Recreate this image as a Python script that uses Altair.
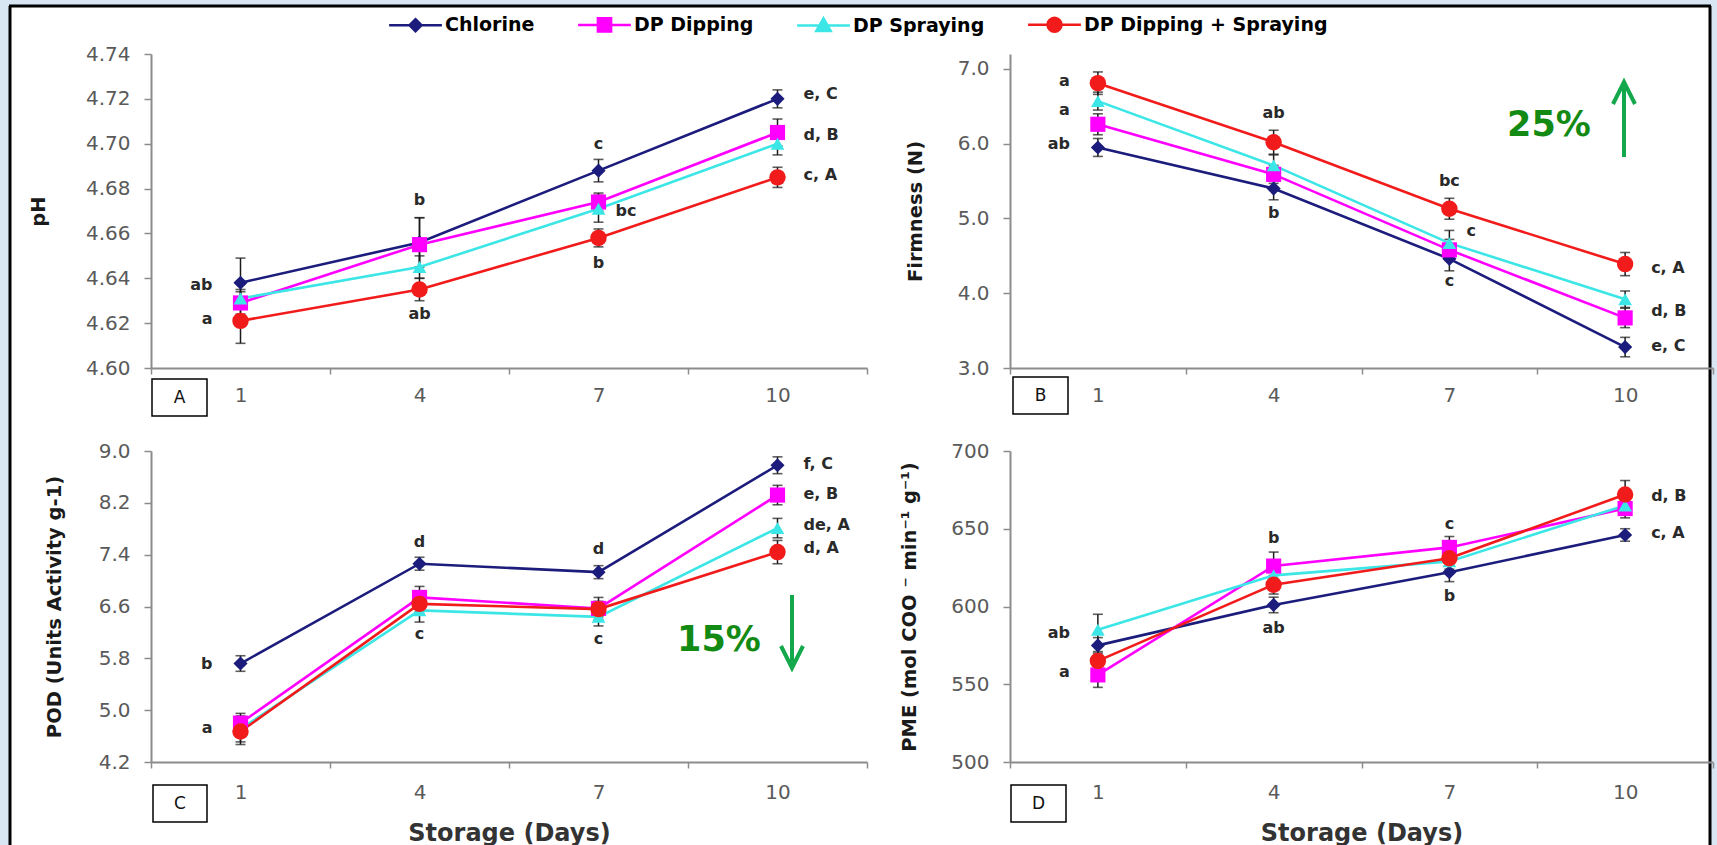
import math
import altair as alt
import pandas as pd

FONT = "DejaVu Sans"
AX = "#8c8c8c"

days = [1, 4, 7, 10]
series = ["Chlorine", "DP Dipping", "DP Spraying", "DP Dipping + Spraying"]
colors = ["#1c1c7c", "#ff00ff", "#3ce6e6", "#f21b1b"]
shapes = ["diamond", "square", "triangle-up", "circle"]
marker_sizes = [200, 230, 190, 270]


def _poly(pts):
    return "M-2.2,0L2.2,0M" + "L".join(f"{a:.3f},{b:.3f}" for a, b in pts) + "Z"


legend_paths = [
    _poly([(0, -0.5), (0.5, 0), (0, 0.5), (-0.5, 0)]),
    _poly([(-0.55, -0.55), (0.55, -0.55), (0.55, 0.55), (-0.55, 0.55)]),
    _poly([(0, -0.6), (0.6, 0.45), (-0.6, 0.45)]),
    _poly([(0.58 * math.cos(2 * math.pi * k / 16), 0.58 * math.sin(2 * math.pi * k / 16))
           for k in range(16)]),
]

# ---- Panel A: pH ----
ph_chlorine = [4.638, 4.656, 4.688, 4.720]
ph_dipping = [4.629, 4.655, 4.674, 4.705]
ph_spraying = [4.631, 4.645, 4.671, 4.700]
ph_dip_spray = [4.621, 4.635, 4.658, 4.685]
ph_err_chlorine = [0.011, 0.011, 0.005, 0.004]
ph_err_dipping = [0.005, 0.012, 0.004, 0.006]
ph_err_spraying = [0.004, 0.005, 0.006, 0.005]
ph_err_dip_spray = [0.010, 0.005, 0.004, 0.0045]
ph_ticks = [4.60, 4.62, 4.64, 4.66, 4.68, 4.70, 4.72, 4.74]
ph_ann_day = [1, 1, 4, 4, 7, 7, 7, 10, 10, 10]
ph_ann_text = ["ab", "a", "b", "ab", "c", "bc", "b", "e, C", "d, B", "c, A"]
ph_ann_y = [4.637, 4.622, 4.675, 4.624, 4.700, 4.670, 4.647, 4.722, 4.704, 4.686]
ph_ann_pos = ["L", "L", "C", "C", "C", "N", "C", "R", "R", "R"]

# ---- Panel B: Firmness ----
fi_chlorine = [5.95, 5.40, 4.46, 3.28]
fi_dipping = [6.26, 5.59, 4.58, 3.67]
fi_spraying = [6.57, 5.71, 4.67, 3.92]
fi_dip_spray = [6.81, 6.02, 5.13, 4.39]
fi_err_chlorine = [0.12, 0.15, 0.16, 0.13]
fi_err_dipping = [0.14, 0.12, 0.14, 0.13]
fi_err_spraying = [0.12, 0.14, 0.17, 0.11]
fi_err_dip_spray = [0.15, 0.16, 0.14, 0.155]
fi_ticks = [3.0, 4.0, 5.0, 6.0, 7.0]
fi_ann_day = [1, 1, 1, 4, 4, 7, 7, 7, 10, 10, 10]
fi_ann_text = ["a", "a", "ab", "ab", "b", "bc", "c", "c", "c, A", "d, B", "e, C"]
fi_ann_y = [6.84, 6.45, 6.00, 6.41, 5.07, 5.50, 4.83, 4.16, 4.34, 3.76, 3.29]
fi_ann_pos = ["L", "L", "L", "C", "C", "C", "N", "C", "R", "R", "R"]

# ---- Panel C: POD ----
pod_chlorine = [5.72, 7.26, 7.13, 8.78]
pod_dipping = [4.80, 6.74, 6.57, 8.32]
pod_spraying = [4.71, 6.54, 6.44, 7.81]
pod_dip_spray = [4.67, 6.64, 6.56, 7.44]
pod_err_chlorine = [0.12, 0.10, 0.10, 0.13]
pod_err_dipping = [0.15, 0.17, 0.17, 0.15]
pod_err_spraying = [0.20, 0.18, 0.14, 0.15]
pod_err_dip_spray = [0.20, 0.12, 0.12, 0.18]
pod_ticks = [4.2, 5.0, 5.8, 6.6, 7.4, 8.2, 9.0]
pod_ann_day = [1, 1, 4, 4, 7, 7, 10, 10, 10, 10]
pod_ann_text = ["b", "a", "d", "c", "d", "c", "f, C", "e, B", "de, A", "d, A"]
pod_ann_y = [5.72, 4.73, 7.60, 6.17, 7.48, 6.10, 8.80, 8.34, 7.86, 7.50]
pod_ann_pos = ["L", "L", "C", "C", "C", "C", "R", "R", "R", "R"]

# ---- Panel D: PME ----
pme_chlorine = [575, 601, 622, 646]
pme_dipping = [556, 626, 638, 663]
pme_spraying = [585, 620, 629, 665]
pme_dip_spray = [565, 614, 631, 672]
pme_err_chlorine = [5, 5, 6, 4]
pme_err_dipping = [8, 9, 7, 6]
pme_err_spraying = [10, 6, 5, 6]
pme_err_dip_spray = [6, 6, 5, 9]
pme_ticks = [500, 550, 600, 650, 700]
pme_ann_day = [1, 1, 4, 4, 7, 7, 10, 10]
pme_ann_text = ["ab", "a", "b", "ab", "c", "b", "d, B", "c, A"]
pme_ann_y = [583, 558, 644, 586, 653, 607, 671, 647]
pme_ann_pos = ["L", "L", "C", "C", "C", "C", "R", "R"]

panel_letters = ["A", "B", "C", "D"]
callout_text = ["25%", "15%"]


def series_frame(vals, errs):
    rows = []
    for s, v, e in zip(series, vals, errs):
        for d, vv, ee in zip(days, v, e):
            rows.append({"day": d, "series": s, "value": vv, "lo": vv - ee, "hi": vv + ee})
    return pd.DataFrame(rows)


POS = {"L": ("right", -28), "R": ("left", 26), "N": ("left", 17), "C": ("center", 0)}


def make_panel(cfg):
    df = series_frame(cfg["values"], cfg["errors"])
    ann = pd.DataFrame({"day": cfg["ann_day"], "label": cfg["ann_text"],
                        "value": cfg["ann_y"], "pos": cfg["ann_pos"]})
    w, h = cfg["w"], cfg["h"]

    xaxis = alt.Axis(title=cfg["xtitle"], labelAngle=0, tickBand="extent",
                     domainColor=AX, domainWidth=2, tickColor=AX, tickWidth=1.5, tickSize=6,
                     labelFont=FONT, labelFontSize=20, labelColor="#5a5a5a",
                     labelPadding=cfg["xpad"], zindex=1, grid=False,
                     titleFont=FONT, titleFontSize=24, titleFontWeight="bold",
                     titleColor="#333333", titleY=71, titleBaseline="middle")
    x = alt.X("day:O", scale=alt.Scale(type="band", domain=days, paddingInner=0, paddingOuter=0),
              axis=xaxis)
    yaxis = alt.Axis(title=cfg["ytitle"], values=cfg["ticks"], format=cfg["fmt"],
                     domainColor=AX, domainWidth=2, tickColor=AX, tickWidth=1.5, tickSize=7,
                     labelFont=FONT, labelFontSize=20, labelColor="#5a5a5a", labelPadding=14,
                     grid=False, zindex=1, titleFont=FONT, titleFontSize=19.5,
                     titleFontWeight="bold", titleColor="#1a1a1a",
                     titleX=cfg["titleX"], titleBaseline="middle")
    yscale = alt.Scale(domain=cfg["domain"], nice=False, zero=False)

    def Y(field):
        return alt.Y(f"{field}:Q", scale=yscale, axis=yaxis)

    color = alt.Color("series:N", scale=alt.Scale(domain=series, range=colors), legend=None)
    base = alt.Chart(df)
    layers = []

    if cfg.get("frame"):
        one = pd.DataFrame({"letter": [cfg["letter"]]})
        fb = alt.Chart(one)
        layers.append(fb.mark_rect(fill="#d8e5f3").encode(
            x=alt.value(-151), x2=alt.value(1566), y=alt.value(-54), y2=alt.value(791)))
        layers.append(fb.mark_rect(fill="white").encode(
            x=alt.value(-141), x2=alt.value(1559), y=alt.value(-48), y2=alt.value(791)))
        layers.append(fb.mark_rule(color="black", strokeWidth=3).encode(
            x=alt.value(-141), y=alt.value(-48), y2=alt.value(791)))
        layers.append(fb.mark_rule(color="black", strokeWidth=3).encode(
            x=alt.value(1559), y=alt.value(-48), y2=alt.value(791)))
        layers.append(fb.mark_rule(color="black", strokeWidth=3).encode(
            x=alt.value(-142), x2=alt.value(1560), y=alt.value(-48)))

    # error bars
    layers.append(base.mark_rule(color="#1a1a1a", strokeWidth=1.5).encode(
        x=x, y=Y("lo"), y2=alt.Y2("hi:Q")))
    layers.append(base.mark_tick(color="#1a1a1a", size=10, thickness=1.6).encode(x=x, y=Y("lo")))
    layers.append(base.mark_tick(color="#1a1a1a", size=10, thickness=1.6).encode(x=x, y=Y("hi")))

    # lines
    layers.append(base.mark_line(strokeWidth=2.6).encode(x=x, y=Y("value"), color=color))

    # markers
    for s, shp, sz in zip(series, shapes, marker_sizes):
        layers.append(base.transform_filter(alt.datum.series == s).mark_point(
            filled=True, shape=shp, size=sz, opacity=1).encode(x=x, y=Y("value"), color=color))

    # significance letters
    for p, (al, dx) in POS.items():
        if p in cfg["ann_pos"]:
            layers.append(alt.Chart(ann).transform_filter(alt.datum.pos == p).mark_text(
                align=al, dx=dx, baseline="middle", font=FONT, fontSize=16,
                fontWeight="bold", color="#2a2a2a").encode(x=x, y=Y("value"), text="label:N"))

    # panel letter box
    bx0, bx1, by0, by1 = cfg["box"]
    one = pd.DataFrame({"letter": [cfg["letter"]]})
    layers.append(alt.Chart(one).mark_rect(fill="white", stroke="black", strokeWidth=1.5).encode(
        x=alt.value(bx0), x2=alt.value(bx1), y=alt.value(h + by0), y2=alt.value(h + by1)))
    layers.append(alt.Chart(one).mark_text(font=FONT, fontSize=17, color="#111111",
                                           baseline="middle").encode(
        x=alt.value((bx0 + bx1) / 2), y=alt.value(h + (by0 + by1) / 2), text="letter:N"))

    # percentage callout with arrow
    if cfg.get("callout"):
        c = cfg["callout"]
        cd = pd.DataFrame({"pct": [c["text"]]})
        cc = alt.Chart(cd)
        layers.append(cc.mark_text(font=FONT, fontSize=35, fontWeight="bold", color="#138a13",
                                   baseline="middle").encode(
            x=alt.value(c["tx"]), y=alt.value(c["ty"]), text="pct:N"))
        layers.append(cc.mark_rule(color="#14a84c", strokeWidth=4).encode(
            x=alt.value(c["ax"]), y=alt.value(c["ay0"]), y2=alt.value(c["ay1"])))
        layers.append(cc.mark_point(shape=c["head"], filled=False, size=484, strokeWidth=4,
                                    color="#14a84c", opacity=1).encode(
            x=alt.value(c["ax"]), y=alt.value(c["hy"])))

    # legend carrier (clipped away inside the plot, only its legend shows)
    if cfg.get("legend"):
        legend = alt.Legend(orient="none", legendX=cfg["legend"][0], legendY=cfg["legend"][1],
                            direction="horizontal",
                            title=None, labelFont=FONT, labelFontSize=19, labelFontWeight="bold",
                            labelColor="black", symbolSize=576, symbolStrokeWidth=2.5,
                            labelOffset=16, columnPadding=38, labelLimit=400, zindex=1)
        ld = pd.DataFrame({"series": series})
        layers.append(alt.Chart(ld).mark_point(filled=True, clip=True, strokeWidth=2.5,
                                               opacity=1).encode(
            x=alt.value(-60), y=alt.value(-60),
            fill=alt.Fill("series:N", scale=alt.Scale(domain=series, range=colors), legend=legend),
            stroke=alt.Stroke("series:N", scale=alt.Scale(domain=series, range=colors), legend=legend),
            shape=alt.Shape("series:N", scale=alt.Scale(domain=series, range=legend_paths),
                            legend=legend)))

    return alt.layer(*layers).properties(width=w, height=h)


A = make_panel(dict(
    values=[ph_chlorine, ph_dipping, ph_spraying, ph_dip_spray],
    errors=[ph_err_chlorine, ph_err_dipping, ph_err_spraying, ph_err_dip_spray],
    ann_day=ph_ann_day, ann_text=ph_ann_text, ann_y=ph_ann_y, ann_pos=ph_ann_pos,
    w=716, h=314, xtitle=None, xpad=11, ytitle="pH", ticks=ph_ticks, fmt=".2f",
    domain=[4.60, 4.74], titleX=-113, letter=panel_letters[0], box=(1, 56, 11, 48),
    frame=True))

B = make_panel(dict(
    values=[fi_chlorine, fi_dipping, fi_spraying, fi_dip_spray],
    errors=[fi_err_chlorine, fi_err_dipping, fi_err_spraying, fi_err_dip_spray],
    ann_day=fi_ann_day, ann_text=fi_ann_text, ann_y=fi_ann_y, ann_pos=fi_ann_pos,
    w=703, h=314, xtitle=None, xpad=11, ytitle="Firmness (N)", ticks=fi_ticks, fmt=".1f",
    domain=[3.0, 7.2], titleX=-95, letter=panel_letters[1], box=(3, 58, 9, 46),
    legend=(-608, -43),
    callout=dict(text=callout_text[0], tx=539, ty=71, ax=614, ay0=103, ay1=32, hy=39,
                 head="M-1,1L0,-1L1,1")))

C = make_panel(dict(
    values=[pod_chlorine, pod_dipping, pod_spraying, pod_dip_spray],
    errors=[pod_err_chlorine, pod_err_dipping, pod_err_spraying, pod_err_dip_spray],
    ann_day=pod_ann_day, ann_text=pod_ann_text, ann_y=pod_ann_y, ann_pos=pod_ann_pos,
    w=716, h=311, xtitle="Storage (Days)", xpad=14, ytitle="POD (Units Activity g-1)",
    ticks=pod_ticks, fmt=".1f", domain=[4.2, 9.0], titleX=-97, letter=panel_letters[2],
    box=(2, 56, 23, 60),
    callout=dict(text=callout_text[1], tx=568, ty=189, ax=641, ay0=144, ay1=213, hy=206,
                 head="M-1,-1L0,1L1,-1")))

D = make_panel(dict(
    values=[pme_chlorine, pme_dipping, pme_spraying, pme_dip_spray],
    errors=[pme_err_chlorine, pme_err_dipping, pme_err_spraying, pme_err_dip_spray],
    ann_day=pme_ann_day, ann_text=pme_ann_text, ann_y=pme_ann_y, ann_pos=pme_ann_pos,
    w=703, h=311, xtitle="Storage (Days)", xpad=14,
    ytitle="PME (mol COO \u207b min\u207b\u00b9 g\u207b\u00b9)",
    ticks=pme_ticks, fmt="d", domain=[500, 700], titleX=-101, letter=panel_letters[3],
    box=(1, 56, 23, 60)))

chart = alt.concat(A, B, C, D, columns=2, spacing={"row": 83, "column": 143},
                   bounds="flush").resolve_scale(
    fill="independent", stroke="independent", shape="independent").resolve_legend(
    fill="independent", stroke="independent", shape="independent").properties(
    padding=0).configure_view(stroke=None)

chart.save("out.html", embed_options={"renderer": "svg", "actions": False})
